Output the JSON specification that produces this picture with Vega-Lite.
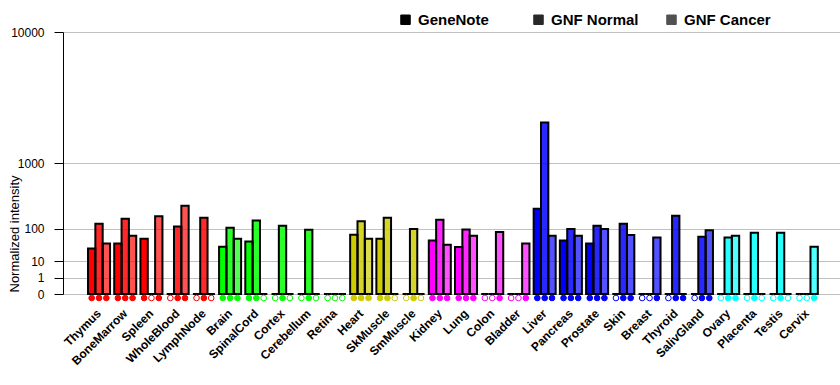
{
  "$schema": "https://vega.github.io/schema/vega-lite/v6.json",
  "autosize": {"type": "none"},
  "width": 777,
  "height": 262,
  "padding": {"left": 63, "top": 32, "right": 0, "bottom": 91},
  "background": "white",
  "config": {"view": {"stroke": null}, "font": "Liberation Sans"},
  "data": {"values": [
    {"tissue": "Thymus", "system": "Immune", "series": "GeneNote", "value": 30, "detected": 1},
    {"tissue": "Thymus", "system": "Immune", "series": "GNF Normal", "value": 126, "detected": 1},
    {"tissue": "Thymus", "system": "Immune", "series": "GNF Cancer", "value": 42, "detected": 1},
    {"tissue": "BoneMarrow", "system": "Immune", "series": "GeneNote", "value": 42, "detected": 1},
    {"tissue": "BoneMarrow", "system": "Immune", "series": "GNF Normal", "value": 159, "detected": 1},
    {"tissue": "BoneMarrow", "system": "Immune", "series": "GNF Cancer", "value": 68, "detected": 1},
    {"tissue": "Spleen", "system": "Immune", "series": "GeneNote", "value": 57, "detected": 1},
    {"tissue": "Spleen", "system": "Immune", "series": "GNF Normal", "value": 0, "detected": 0},
    {"tissue": "Spleen", "system": "Immune", "series": "GNF Cancer", "value": 176, "detected": 1},
    {"tissue": "WholeBlood", "system": "Immune", "series": "GeneNote", "value": 0, "detected": 0},
    {"tissue": "WholeBlood", "system": "Immune", "series": "GNF Normal", "value": 110, "detected": 1},
    {"tissue": "WholeBlood", "system": "Immune", "series": "GNF Cancer", "value": 269, "detected": 1},
    {"tissue": "LymphNode", "system": "Immune", "series": "GeneNote", "value": 0, "detected": 0},
    {"tissue": "LymphNode", "system": "Immune", "series": "GNF Normal", "value": 166, "detected": 1},
    {"tissue": "LymphNode", "system": "Immune", "series": "GNF Cancer", "value": 0, "detected": 0},
    {"tissue": "Brain", "system": "Neural", "series": "GeneNote", "value": 34, "detected": 1},
    {"tissue": "Brain", "system": "Neural", "series": "GNF Normal", "value": 104, "detected": 1},
    {"tissue": "Brain", "system": "Neural", "series": "GNF Cancer", "value": 57, "detected": 1},
    {"tissue": "SpinalCord", "system": "Neural", "series": "GeneNote", "value": 48, "detected": 1},
    {"tissue": "SpinalCord", "system": "Neural", "series": "GNF Normal", "value": 147, "detected": 1},
    {"tissue": "SpinalCord", "system": "Neural", "series": "GNF Cancer", "value": 0, "detected": 0},
    {"tissue": "Cortex", "system": "Neural", "series": "GeneNote", "value": 0, "detected": 0},
    {"tissue": "Cortex", "system": "Neural", "series": "GNF Normal", "value": 115, "detected": 1},
    {"tissue": "Cortex", "system": "Neural", "series": "GNF Cancer", "value": 0, "detected": 0},
    {"tissue": "Cerebellum", "system": "Neural", "series": "GeneNote", "value": 0, "detected": 0},
    {"tissue": "Cerebellum", "system": "Neural", "series": "GNF Normal", "value": 94, "detected": 1},
    {"tissue": "Cerebellum", "system": "Neural", "series": "GNF Cancer", "value": 0, "detected": 0},
    {"tissue": "Retina", "system": "Neural", "series": "GeneNote", "value": 0, "detected": 0},
    {"tissue": "Retina", "system": "Neural", "series": "GNF Normal", "value": 0, "detected": 0},
    {"tissue": "Retina", "system": "Neural", "series": "GNF Cancer", "value": 0, "detected": 0},
    {"tissue": "Heart", "system": "Muscle", "series": "GeneNote", "value": 72, "detected": 1},
    {"tissue": "Heart", "system": "Muscle", "series": "GNF Normal", "value": 141, "detected": 1},
    {"tissue": "Heart", "system": "Muscle", "series": "GNF Cancer", "value": 57, "detected": 1},
    {"tissue": "SkMuscle", "system": "Muscle", "series": "GeneNote", "value": 57, "detected": 1},
    {"tissue": "SkMuscle", "system": "Muscle", "series": "GNF Normal", "value": 166, "detected": 1},
    {"tissue": "SkMuscle", "system": "Muscle", "series": "GNF Cancer", "value": 0, "detected": 0},
    {"tissue": "SmMuscle", "system": "Muscle", "series": "GeneNote", "value": 0, "detected": 0},
    {"tissue": "SmMuscle", "system": "Muscle", "series": "GNF Normal", "value": 97, "detected": 1},
    {"tissue": "SmMuscle", "system": "Muscle", "series": "GNF Cancer", "value": 0, "detected": 0},
    {"tissue": "Kidney", "system": "Visceral", "series": "GeneNote", "value": 51, "detected": 1},
    {"tissue": "Kidney", "system": "Visceral", "series": "GNF Normal", "value": 152, "detected": 1},
    {"tissue": "Kidney", "system": "Visceral", "series": "GNF Cancer", "value": 39, "detected": 1},
    {"tissue": "Lung", "system": "Visceral", "series": "GeneNote", "value": 33, "detected": 1},
    {"tissue": "Lung", "system": "Visceral", "series": "GNF Normal", "value": 95, "detected": 1},
    {"tissue": "Lung", "system": "Visceral", "series": "GNF Cancer", "value": 68, "detected": 1},
    {"tissue": "Colon", "system": "Visceral", "series": "GeneNote", "value": 0, "detected": 0},
    {"tissue": "Colon", "system": "Visceral", "series": "GNF Normal", "value": 0, "detected": 0},
    {"tissue": "Colon", "system": "Visceral", "series": "GNF Cancer", "value": 83, "detected": 1},
    {"tissue": "Bladder", "system": "Visceral", "series": "GeneNote", "value": 0, "detected": 0},
    {"tissue": "Bladder", "system": "Visceral", "series": "GNF Normal", "value": 0, "detected": 0},
    {"tissue": "Bladder", "system": "Visceral", "series": "GNF Cancer", "value": 42, "detected": 1},
    {"tissue": "Liver", "system": "Glandular", "series": "GeneNote", "value": 240, "detected": 1},
    {"tissue": "Liver", "system": "Glandular", "series": "GNF Normal", "value": 2450, "detected": 1},
    {"tissue": "Liver", "system": "Glandular", "series": "GNF Cancer", "value": 68, "detected": 1},
    {"tissue": "Pancreas", "system": "Glandular", "series": "GeneNote", "value": 51, "detected": 1},
    {"tissue": "Pancreas", "system": "Glandular", "series": "GNF Normal", "value": 97, "detected": 1},
    {"tissue": "Pancreas", "system": "Glandular", "series": "GNF Cancer", "value": 68, "detected": 1},
    {"tissue": "Prostate", "system": "Glandular", "series": "GeneNote", "value": 42, "detected": 1},
    {"tissue": "Prostate", "system": "Glandular", "series": "GNF Normal", "value": 115, "detected": 1},
    {"tissue": "Prostate", "system": "Glandular", "series": "GNF Cancer", "value": 97, "detected": 1},
    {"tissue": "Skin", "system": "Glandular", "series": "GeneNote", "value": 0, "detected": 0},
    {"tissue": "Skin", "system": "Glandular", "series": "GNF Normal", "value": 126, "detected": 1},
    {"tissue": "Skin", "system": "Glandular", "series": "GNF Cancer", "value": 71, "detected": 1},
    {"tissue": "Breast", "system": "Glandular", "series": "GeneNote", "value": 0, "detected": 0},
    {"tissue": "Breast", "system": "Glandular", "series": "GNF Normal", "value": 0, "detected": 0},
    {"tissue": "Breast", "system": "Glandular", "series": "GNF Cancer", "value": 61, "detected": 1},
    {"tissue": "Thyroid", "system": "Glandular", "series": "GeneNote", "value": 0, "detected": 0},
    {"tissue": "Thyroid", "system": "Glandular", "series": "GNF Normal", "value": 181, "detected": 1},
    {"tissue": "Thyroid", "system": "Glandular", "series": "GNF Cancer", "value": 0, "detected": 1},
    {"tissue": "SalivGland", "system": "Glandular", "series": "GeneNote", "value": 0, "detected": 0},
    {"tissue": "SalivGland", "system": "Glandular", "series": "GNF Normal", "value": 64, "detected": 1},
    {"tissue": "SalivGland", "system": "Glandular", "series": "GNF Cancer", "value": 91, "detected": 1},
    {"tissue": "Ovary", "system": "Reproductive", "series": "GeneNote", "value": 0, "detected": 0},
    {"tissue": "Ovary", "system": "Reproductive", "series": "GNF Normal", "value": 61, "detected": 1},
    {"tissue": "Ovary", "system": "Reproductive", "series": "GNF Cancer", "value": 68, "detected": 1},
    {"tissue": "Placenta", "system": "Reproductive", "series": "GeneNote", "value": 0, "detected": 0},
    {"tissue": "Placenta", "system": "Reproductive", "series": "GNF Normal", "value": 80, "detected": 1},
    {"tissue": "Placenta", "system": "Reproductive", "series": "GNF Cancer", "value": 0, "detected": 0},
    {"tissue": "Testis", "system": "Reproductive", "series": "GeneNote", "value": 0, "detected": 0},
    {"tissue": "Testis", "system": "Reproductive", "series": "GNF Normal", "value": 80, "detected": 1},
    {"tissue": "Testis", "system": "Reproductive", "series": "GNF Cancer", "value": 0, "detected": 0},
    {"tissue": "Cervix", "system": "Reproductive", "series": "GeneNote", "value": 0, "detected": 0},
    {"tissue": "Cervix", "system": "Reproductive", "series": "GNF Normal", "value": 0, "detected": 0},
    {"tissue": "Cervix", "system": "Reproductive", "series": "GNF Cancer", "value": 34, "detected": 1}
  ]},
  "encoding": {
    "x": {
      "field": "tissue", "type": "nominal", "sort": null,
      "scale": {"paddingInner": 0.16, "paddingOuter": 0.9, "align": 0.53},
      "axis": {
        "title": null, "domain": false, "ticks": false, "grid": false,
        "labelAngle": -45, "labelAlign": "right", "labelBaseline": "middle",
        "labelPadding": 17, "labelFont": "Liberation Sans", "labelFontSize": 12,
        "labelFontWeight": "bold", "labelColor": "black", "labelOverlap": false
      }
    },
    "xOffset": {
      "field": "series", "type": "nominal",
      "scale": {"domain": ["GeneNote", "GNF Normal", "GNF Cancer"], "paddingInner": 0, "paddingOuter": 0}
    }
  },
  "layer": [
    {
      "mark": {"type": "bar", "strokeWidth": 0},
      "encoding": {
        "y": {
          "field": "value", "type": "quantitative",
          "scale": {"type": "pow", "exponent": 0.30103, "domain": [0, 10000], "nice": false, "zero": true},
          "axis": {
            "title": "Normalized intensity", "values": [0, 1, 10, 100, 1000, 10000], "format": "d",
            "domainColor": "black", "domainWidth": 1, "tickColor": "black", "tickSize": 9, "tickWidth": 1,
            "labelPadding": 10, "labelFont": "Liberation Sans", "labelFontSize": 12, "labelColor": "black",
            "gridColor": "#c0c0c0", "gridWidth": 1,
            "titleFont": "Liberation Sans", "titleFontSize": 13, "titleFontWeight": "normal", "titleColor": "black",
            "titleAnchor": "start", "titleAlign": "left", "titleX": -42, "titleY": 260, "titleBaseline": "bottom"
          }
        },
        "fill": {
          "field": "system", "type": "nominal", "legend": null,
          "scale": {"domain": ["Immune", "Neural", "Muscle", "Visceral", "Glandular", "Reproductive"],
                    "range": ["#ff0000", "#00ff00", "#cccc00", "#ff00ff", "#0000ff", "#00ffff"]}
        },
        "opacity": {
          "field": "series", "type": "nominal",
          "scale": {"domain": ["GeneNote", "GNF Normal", "GNF Cancer"], "range": [1, 0.68, 0.52]},
          "legend": {
            "title": null, "orient": "none", "direction": "horizontal", "legendX": 335, "legendY": -20,
            "symbolType": "square", "symbolSize": 90, "symbolFillColor": "black", "symbolStrokeColor": "black",
            "symbolStrokeWidth": 1, "labelFont": "Liberation Sans", "labelFontSize": 15, "labelFontWeight": "bold",
            "labelColor": "black", "labelOffset": 5, "columnPadding": 25, "gridAlign": "all"
          }
        }
      }
    },
    {
      "mark": {"type": "bar", "fill": null, "fillOpacity": 0, "stroke": "black", "strokeWidth": 2},
      "encoding": {
        "y": {"field": "value", "type": "quantitative", "title": "Normalized intensity"}
      }
    },
    {
      "mark": {"type": "point", "shape": "circle", "size": 32, "strokeWidth": 1, "opacity": 1, "filled": false, "yOffset": 4},
      "encoding": {
        "y": {"datum": 0, "type": "quantitative", "title": "Normalized intensity"},
        "stroke": {
          "field": "system", "type": "nominal", "legend": null,
          "scale": {"domain": ["Immune", "Neural", "Muscle", "Visceral", "Glandular", "Reproductive"],
                    "range": ["#ff0000", "#00ff00", "#cccc00", "#ff00ff", "#0000ff", "#00ffff"]}
        },
        "fill": {
          "condition": {"test": "datum.detected == 1", "field": "system", "type": "nominal", "legend": null},
          "value": "white"
        }
      }
    }
  ]
}
